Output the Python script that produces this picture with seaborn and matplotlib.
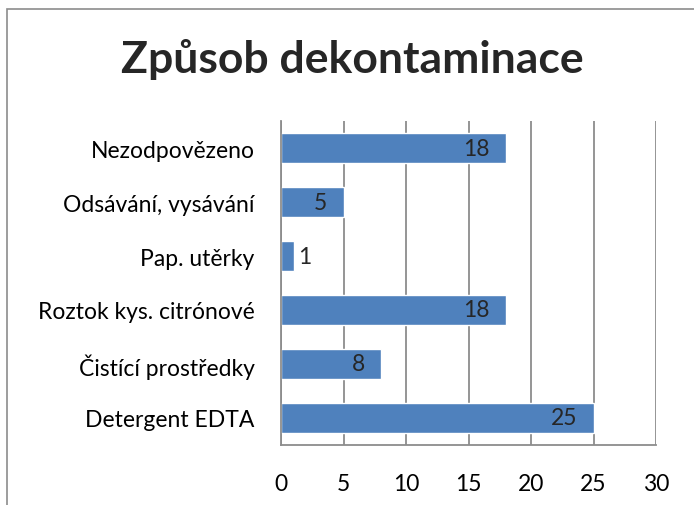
import pandas as pd
import matplotlib.pyplot as plt
import seaborn as sns
from matplotlib.patches import Rectangle

# data (top to bottom)
categories = ["Nezodpovězeno", "Odsávání, vysávání", "Pap. utěrky",
              "Roztok kys. citrónové", "Čistící prostředky", "Detergent EDTA"]
counts = [18, 5, 1, 18, 8, 25]
x_ticks = [0, 5, 10, 15, 20, 25, 30]

df = pd.DataFrame({"Kategorie": categories, "Pocet": counts})

sns.set_style("white")
plt.rcParams['font.family'] = ['Lato', 'DejaVu Sans']

fig = plt.figure(figsize=(6.94, 5.06), dpi=100)
ax = fig.add_axes([281 / 694, 60 / 506, 375 / 694, 324 / 506])

bar_col = "#4F81BD"
sns.barplot(data=df, x="Pocet", y="Kategorie", orient="h", color=bar_col,
            saturation=1, width=0.56, ax=ax)

ax.set_xlim(0, 30)
ax.set_xticks(x_ticks)
ax.set_xlabel("")
ax.set_ylabel("")
ax.xaxis.grid(True, color="#8c8c8c", linewidth=1.3)
ax.set_axisbelow(True)
for s in ["top", "right"]:
    ax.spines[s].set_visible(False)
for s in ["left", "bottom"]:
    ax.spines[s].set_color("#8c8c8c")
    ax.spines[s].set_linewidth(1.3)
ax.tick_params(axis="both", length=0, labelsize=16.5, colors="black")
ax.tick_params(axis="x", pad=20)
ax.tick_params(axis="y", pad=19)

# value labels: inside end, except the tiny bar
for i, v in enumerate(counts):
    if v < 3:
        ax.text(v + 0.4, i, str(v), ha="left", va="center", fontsize=16.5)
    else:
        ax.text(v - 1.3, i, str(v), ha="right", va="center", fontsize=16.5)

fig.text(352 / 694, 1 - 60 / 506, "Způsob dekontaminace", ha="center",
         va="center", fontsize=32, fontweight="bold")

# chart frame (only top and left edges are visible)
fig.patches.append(Rectangle((7 / 694, -0.05), 1.0, 1 - 10 / 506 + 0.05,
                             transform=fig.transFigure, fill=False,
                             edgecolor="#8c8c8c", linewidth=1.2))

fig.savefig("out.png", dpi=100)
